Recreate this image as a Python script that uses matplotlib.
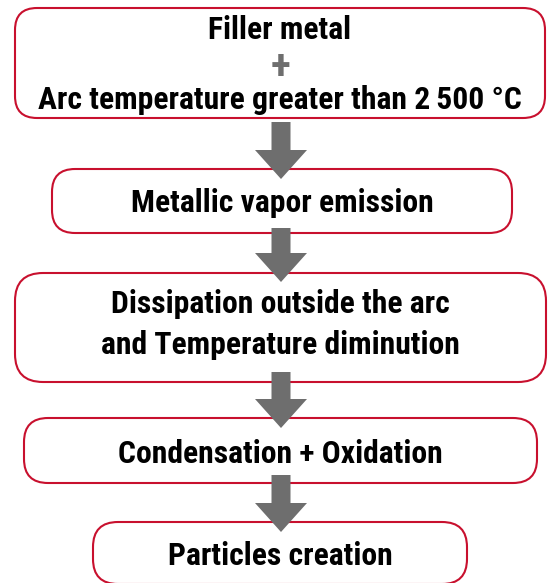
import matplotlib
matplotlib.use("Agg")
import matplotlib.pyplot as plt
from matplotlib.patches import FancyBboxPatch
from matplotlib import font_manager

# ---- content ----
step_labels = [
    ["Filler metal", "Arc temperature greater than 2\u2009500 \u00b0C"],
    ["Metallic vapor emission"],
    ["Dissipation outside the arc", "and Temperature diminution"],
    ["Condensation + Oxidation"],
    ["Particles creation"],
]
join_symbol = "+"

# ---- font selection ----
available = {f.name for f in font_manager.fontManager.ttflist}
prefs = ["Liberation Sans Narrow", "DejaVu Sans Condensed", "Roboto Condensed",
         "Open Sans Condensed", "Noto Sans Condensed", "Liberation Sans"]
main_font = next((p for p in prefs if p in available), "DejaVu Sans")
plt.rcParams['font.family'] = [main_font, 'DejaVu Sans']

RED = "#C8102E"
GRAY = "#6E6E6E"

fig = plt.figure(figsize=(5.5, 5.83), dpi=100)
ax = fig.add_axes([0, 0, 1, 1])
ax.set_xlim(0, 550)
ax.set_ylim(583, 0)
ax.axis("off")

# layout (pixels): x0, x1, y0, y1, corner radius
boxes = [
    (15, 545, 8, 118, 22),
    (52, 512, 169, 233, 23),
    (15, 546, 273, 382, 28),
    (24, 537, 418, 483, 24),
    (93, 467, 522, 584, 25),
]
# text baselines per box
baselines = [
    [39, 109],
    [212],
    [313, 354],
    [463],
    [565],
]
FS = 22.8

for (x0, x1, y0, y1, r), lines, bls in zip(boxes, step_labels, baselines):
    p = FancyBboxPatch((x0, y0), x1 - x0, y1 - y0,
                       boxstyle=f"round,pad=0,rounding_size={r}",
                       fc="white", ec=RED, lw=1.5, zorder=1)
    ax.add_patch(p)
    cx = (x0 + x1) / 2
    for txt, b in zip(lines, bls):
        ax.text(cx, b, txt, ha="center", va="baseline", fontsize=FS,
                fontweight="bold", color="black", zorder=3)

# plus sign in first box
ax.text(280, 63, join_symbol, ha="center", va="center_baseline", fontsize=30,
        fontweight="heavy", color=GRAY, zorder=3)

# arrows: shaft top, tip
arrows = [(122, 179), (228, 282), (372, 428), (475, 532)]
for ys, ye in arrows:
    ax.arrow(281, ys, 0, ye - ys, width=19, head_width=52, head_length=29,
             length_includes_head=True, fc=GRAY, ec="none", zorder=4)

fig.savefig("out.png", dpi=100)
